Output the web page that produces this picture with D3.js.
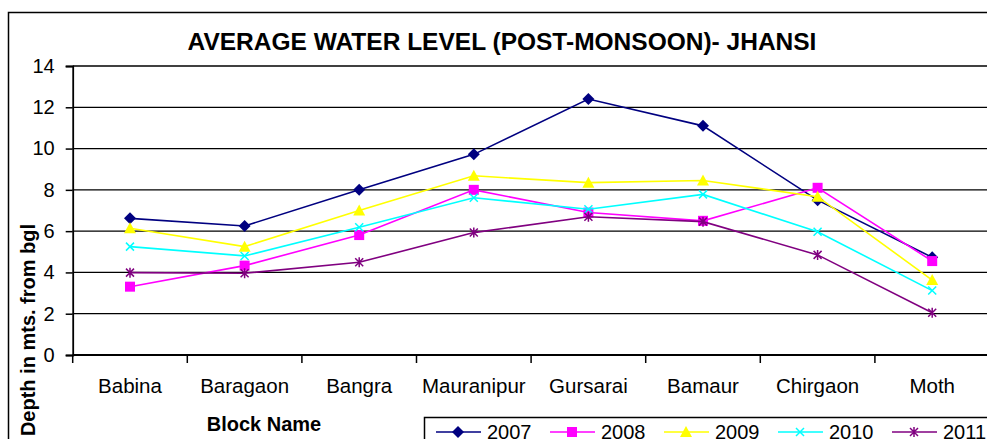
<!DOCTYPE html>
<html>
<head>
<meta charset="utf-8">
<script src="https://cdn.jsdelivr.net/npm/d3@7"></script>
<style>
  body { margin: 0; background: #fff; }
  svg { display: block; font-family: Arial, "Liberation Sans", sans-serif; }
</style>
</head>
<body>
<svg width="987" height="439"></svg>
<script>
const blocks = ['Babina', 'Baragaon', 'Bangra', 'Mauranipur', 'Gursarai', 'Bamaur', 'Chirgaon', 'Moth'];
const years = ['2007', '2008', '2009', '2010', '2011'];
const v2007 = [6.62, 6.25, 8.0, 9.72, 12.4, 11.1, 7.5, 4.73];
const v2008 = [3.31, 4.33, 5.81, 8.0, 6.9, 6.5, 8.1, 4.55];
const v2009 = [6.14, 5.25, 7.0, 8.68, 8.35, 8.45, 7.67, 3.63];
const v2010 = [5.25, 4.8, 6.19, 7.62, 7.06, 7.78, 5.97, 3.12];
const v2011 = [3.99, 3.96, 4.49, 5.93, 6.7, 6.46, 4.85, 2.05];
const yTicks = [0, 2, 4, 6, 8, 10, 12, 14];

const seriesValues = [v2007, v2008, v2009, v2010, v2011];
const colors = ['#000080', '#ff00ff', '#ffff00', '#00ffff', '#800080'];
const shapes = ['diamond', 'square', 'triangle', 'x', 'star'];

const svg = d3.select('svg');
const width = +svg.attr('width');
const height = +svg.attr('height');

// outer chart border (runs off the right/bottom edge)
svg.append('rect')
  .attr('x', 8.5).attr('y', 12.5)
  .attr('width', 1000).attr('height', 500)
  .attr('fill', 'none').attr('stroke', '#000').attr('stroke-width', 1.5);

const margin = { left: 72.7, top: 66, right: -2.5, bottom: 84 };
const innerWidth = width - margin.left - margin.right;
const innerHeight = height - margin.top - margin.bottom;

const xScale = d3.scaleBand()
  .domain(blocks)
  .range([0, innerWidth]);

const yScale = d3.scaleLinear()
  .domain([0, 14])
  .range([innerHeight, 0]);

const g = svg.append('g')
  .attr('transform', `translate(${margin.left}, ${margin.top})`);

// gridlines
g.append('g').selectAll('line').data(yTicks.filter(d => d > 0))
  .enter().append('line')
    .attr('x1', 0).attr('x2', innerWidth + 5)
    .attr('y1', d => yScale(d)).attr('y2', d => yScale(d))
    .attr('stroke', '#000').attr('stroke-width', 1.3);

// y axis
const yAxis = d3.axisLeft(yScale).tickValues(yTicks).tickSize(7).tickPadding(11);
const yAxisG = g.append('g').call(yAxis);
yAxisG.select('.domain').attr('stroke-width', 1.8);
yAxisG.selectAll('.tick line').attr('stroke-width', 1.5);
yAxisG.selectAll('text')
  .attr('font-size', 20).attr('fill', '#000')
  .attr('font-family', 'Arial, "Liberation Sans", sans-serif');

// x axis
const xAxisG = g.append('g').attr('transform', `translate(0, ${innerHeight})`);
xAxisG.append('line')
  .attr('x1', 0).attr('x2', innerWidth + 5)
  .attr('stroke', '#000').attr('stroke-width', 2);
xAxisG.selectAll('.tk').data(blocks)
  .enter().append('line')
    .attr('class', 'tk')
    .attr('x1', d => xScale(d)).attr('x2', d => xScale(d))
    .attr('y1', 0).attr('y2', 8)
    .attr('stroke', '#000').attr('stroke-width', 1.5);
xAxisG.selectAll('text').data(blocks)
  .enter().append('text')
    .attr('x', d => xScale(d) + xScale.bandwidth() / 2)
    .attr('y', 37.5)
    .attr('text-anchor', 'middle')
    .attr('font-size', 20.5)
    .text(d => d);

// title and axis labels
svg.append('text')
  .attr('x', 502).attr('y', 50)
  .attr('text-anchor', 'middle')
  .attr('font-size', 24.5).attr('font-weight', 'bold')
  .text('AVERAGE WATER LEVEL (POST-MONSOON)- JHANSI');

svg.append('text')
  .attr('x', 264).attr('y', 431)
  .attr('text-anchor', 'middle')
  .attr('font-size', 20).attr('font-weight', 'bold')
  .text('Block Name');

svg.append('text')
  .attr('transform', 'translate(35, 330) rotate(-90)')
  .attr('text-anchor', 'middle')
  .attr('font-size', 20).attr('font-weight', 'bold')
  .text('Depth in mts. from bgl');

// marker drawing
const drawMarker = (sel, shape, color) => {
  if (shape === 'diamond') {
    sel.append('path').attr('d', 'M0,-6L6,0L0,6L-6,0Z').attr('fill', color);
  } else if (shape === 'square') {
    sel.append('rect').attr('x', -5).attr('y', -5).attr('width', 10).attr('height', 10).attr('fill', color);
  } else if (shape === 'triangle') {
    sel.append('path').attr('d', 'M0,-6L6,5L-6,5Z').attr('fill', color);
  } else if (shape === 'x') {
    sel.append('path').attr('d', 'M-4,-4L4,4M-4,4L4,-4').attr('stroke', color).attr('stroke-width', 1.5);
  } else {
    sel.append('path').attr('d', 'M-4,-4L4,4M-4,4L4,-4M0,-5L0,5').attr('stroke', color).attr('stroke-width', 1.5);
  }
};

const line = d3.line()
  .x((d, i) => xScale(blocks[i]) + xScale.bandwidth() / 2)
  .y(d => yScale(d));

seriesValues.forEach((vals, s) => {
  g.append('path')
    .datum(vals)
    .attr('d', line)
    .attr('fill', 'none')
    .attr('stroke', colors[s])
    .attr('stroke-width', 1.6);
  g.selectAll(`.m${s}`).data(vals)
    .enter().append('g')
      .attr('class', `m${s}`)
      .attr('transform', (d, i) => `translate(${xScale(blocks[i]) + xScale.bandwidth() / 2}, ${yScale(d)})`)
      .each(function () { drawMarker(d3.select(this), shapes[s], colors[s]); });
});

// legend
const legend = svg.append('g');
legend.append('rect')
  .attr('x', 424.5).attr('y', 417.5)
  .attr('width', 600).attr('height', 40)
  .attr('fill', '#fff').attr('stroke', '#000').attr('stroke-width', 1.5);
years.forEach((yr, s) => {
  const lx = 436 + s * 114;
  const item = legend.append('g').attr('transform', `translate(${lx}, 432)`);
  item.append('line').attr('x1', 0).attr('x2', 45)
    .attr('stroke', colors[s]).attr('stroke-width', 1.6);
  drawMarker(item.append('g').attr('transform', 'translate(22, 0)'), shapes[s], colors[s]);
  item.append('text').attr('x', 51).attr('y', 6.5)
    .attr('font-size', 20).text(yr);
});
</script>
</body>
</html>
